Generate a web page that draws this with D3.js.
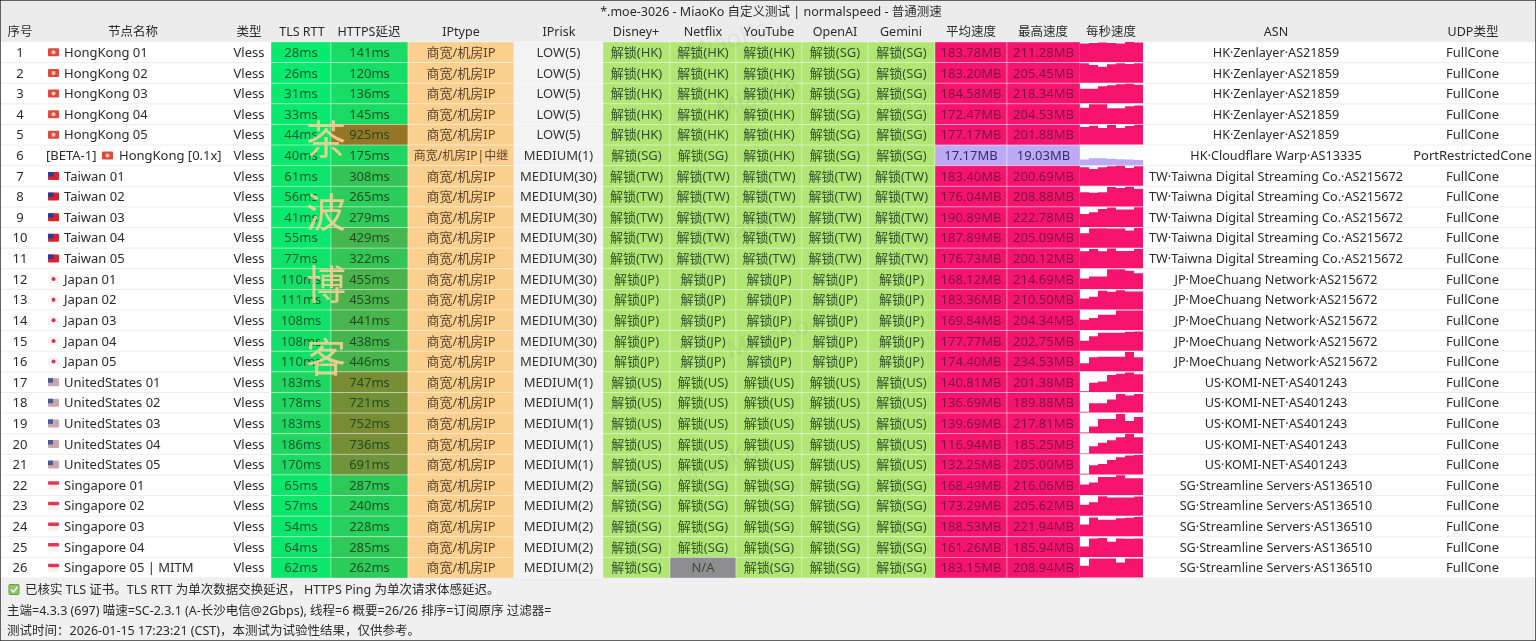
<!DOCTYPE html>
<html lang="zh">
<head>
<meta charset="UTF-8">
<title>MiaoKo normalspeed</title>
<script src="https://d3js.org/d3.v7.min.js"></script>
<style>
    html, body { margin: 0; padding: 0; background: #f0f0f0; overflow: hidden; }
    svg { display: block; filter: blur(0.4px); font-family: "Noto Sans", "Noto Sans CJK SC", sans-serif; }
    text { font-size: 13px; fill: #2b2b2b; }
</style>
</head>
<body>
<svg id="chart" width="1536" height="641"></svg>
<script>
const title = "*.moe-3026 - MiaoKo 自定义测试 | normalspeed - 普通测速";
const headers = ["序号", "节点名称", "类型", "TLS RTT", "HTTPS延迟", "IPtype", "IPrisk", "Disney+", "Netflix", "YouTube", "OpenAI", "Gemini", "平均速度", "最高速度", "每秒速度", "ASN", "UDP类型"];
const footerLines = [
    "已核实 TLS 证书。TLS RTT 为单次数据交换延迟， HTTPS Ping 为单次请求体感延迟。",
    "主端=4.3.3 (697) 喵速=SC-2.3.1 (A-长沙电信@2Gbps), 线程=6 概要=26/26 排序=订阅原序 过滤器=",
    "测试时间：2026-01-15 17:23:21 (CST)，本测试为试验性结果，仅供参考。"
];
const watermark = ["茶", "波", "博", "客"];

const names = ["HongKong 01", "HongKong 02", "HongKong 03", "HongKong 04", "HongKong 05", "HongKong [0.1x]",
    "Taiwan 01", "Taiwan 02", "Taiwan 03", "Taiwan 04", "Taiwan 05",
    "Japan 01", "Japan 02", "Japan 03", "Japan 04", "Japan 05",
    "UnitedStates 01", "UnitedStates 02", "UnitedStates 03", "UnitedStates 04", "UnitedStates 05",
    "Singapore 01", "Singapore 02", "Singapore 03", "Singapore 04", "Singapore 05 | MITM"];
const flags = ["HK", "HK", "HK", "HK", "HK", "HK", "TW", "TW", "TW", "TW", "TW", "JP", "JP", "JP", "JP", "JP",
    "US", "US", "US", "US", "US", "SG", "SG", "SG", "SG", "SG"];
const tlsRtt = [28, 26, 31, 33, 44, 40, 61, 56, 41, 55, 77, 110, 111, 108, 108, 110, 183, 178, 183, 186, 170, 65, 57, 54, 64, 62];
const httpsDelay = [141, 120, 136, 145, 925, 175, 308, 265, 279, 429, 322, 455, 453, 441, 438, 446, 747, 721, 752, 736, 691, 287, 240, 228, 285, 262];
const ipRisk = ["LOW(5)", "LOW(5)", "LOW(5)", "LOW(5)", "LOW(5)", "MEDIUM(1)",
    "MEDIUM(30)", "MEDIUM(30)", "MEDIUM(30)", "MEDIUM(30)", "MEDIUM(30)",
    "MEDIUM(30)", "MEDIUM(30)", "MEDIUM(30)", "MEDIUM(30)", "MEDIUM(30)",
    "MEDIUM(1)", "MEDIUM(1)", "MEDIUM(1)", "MEDIUM(1)", "MEDIUM(1)",
    "MEDIUM(2)", "MEDIUM(2)", "MEDIUM(2)", "MEDIUM(2)", "MEDIUM(2)"];
const disney = ["HK", "HK", "HK", "HK", "HK", "SG", "TW", "TW", "TW", "TW", "TW", "JP", "JP", "JP", "JP", "JP", "US", "US", "US", "US", "US", "SG", "SG", "SG", "SG", "SG"];
const netflix = ["HK", "HK", "HK", "HK", "HK", "SG", "TW", "TW", "TW", "TW", "TW", "JP", "JP", "JP", "JP", "JP", "US", "US", "US", "US", "US", "SG", "SG", "SG", "SG", null];
const youtube = ["HK", "HK", "HK", "HK", "HK", "HK", "TW", "TW", "TW", "TW", "TW", "JP", "JP", "JP", "JP", "JP", "US", "US", "US", "US", "US", "SG", "SG", "SG", "SG", "SG"];
const openai = ["SG", "SG", "SG", "SG", "SG", "SG", "TW", "TW", "TW", "TW", "TW", "JP", "JP", "JP", "JP", "JP", "US", "US", "US", "US", "US", "SG", "SG", "SG", "SG", "SG"];
const gemini = ["SG", "SG", "SG", "SG", "SG", "SG", "TW", "TW", "TW", "TW", "TW", "JP", "JP", "JP", "JP", "JP", "US", "US", "US", "US", "US", "SG", "SG", "SG", "SG", "SG"];
const avgSpeed = [183.78, 183.20, 184.58, 172.47, 177.17, 17.17, 183.40, 176.04, 190.89, 187.89, 176.73, 168.12, 183.36, 169.84, 177.77, 174.40, 140.81, 136.69, 139.69, 116.94, 132.25, 168.49, 173.29, 188.53, 161.26, 183.15];
const maxSpeed = [211.28, 205.45, 218.34, 204.53, 201.88, 19.03, 200.69, 208.88, 222.78, 205.09, 200.12, 214.69, 210.50, 204.34, 202.75, 234.53, 201.38, 189.88, 217.81, 185.25, 205.00, 216.06, 205.62, 221.94, 185.94, 208.94];
// per second samples, in percent of the cell height
const perSecond = [
    [93, 95, 97, 95, 92, 100, 97], [97, 88, 80, 92, 97, 93, 97], [72, 72, 85, 90, 95, 97, 92],
    [80, 98, 98, 78, 78, 88, 92], [88, 94, 82, 97, 82, 92, 98], [28, 35, 34, 32, 30, 28, 26],
    [92, 84, 92, 97, 100, 88, 97], [70, 68, 70, 96, 92, 98, 88], [65, 73, 90, 97, 87, 87, 98],
    [72, 97, 97, 95, 95, 85, 98], [85, 96, 84, 98, 86, 86, 96], [52, 62, 62, 97, 97, 90, 78],
    [55, 64, 93, 88, 96, 89, 89], [52, 60, 76, 76, 97, 97, 97], [50, 72, 90, 90, 90, 94, 96],
    [40, 70, 72, 72, 72, 96, 70], [4, 46, 52, 84, 90, 97, 88], [4, 46, 46, 65, 92, 85, 92],
    [3, 33, 70, 70, 96, 60, 80], [3, 38, 55, 68, 82, 98, 82], [3, 45, 52, 72, 85, 94, 96],
    [52, 62, 90, 90, 98, 84, 84], [54, 67, 97, 90, 90, 90, 95], [58, 93, 82, 82, 90, 92, 96],
    [52, 92, 94, 75, 92, 90, 92], [58, 94, 94, 94, 74, 94, 94]
];
const asn = ["HK·Zenlayer·AS21859", "HK·Zenlayer·AS21859", "HK·Zenlayer·AS21859", "HK·Zenlayer·AS21859", "HK·Zenlayer·AS21859", "HK·Cloudflare Warp·AS13335",
    "TW·Taiwna Digital Streaming Co.·AS215672", "TW·Taiwna Digital Streaming Co.·AS215672", "TW·Taiwna Digital Streaming Co.·AS215672", "TW·Taiwna Digital Streaming Co.·AS215672", "TW·Taiwna Digital Streaming Co.·AS215672",
    "JP·MoeChuang Network·AS215672", "JP·MoeChuang Network·AS215672", "JP·MoeChuang Network·AS215672", "JP·MoeChuang Network·AS215672", "JP·MoeChuang Network·AS215672",
    "US·KOMI-NET·AS401243", "US·KOMI-NET·AS401243", "US·KOMI-NET·AS401243", "US·KOMI-NET·AS401243", "US·KOMI-NET·AS401243",
    "SG·Streamline Servers·AS136510", "SG·Streamline Servers·AS136510", "SG·Streamline Servers·AS136510", "SG·Streamline Servers·AS136510", "SG·Streamline Servers·AS136510"];
const udp = names.map((d, i) => i === 5 ? "PortRestrictedCone" : "FullCone");

// column edges, one more than the headers
const edges = [0, 41, 228, 271, 331, 408, 514, 603, 670, 736, 802, 868, 935, 1007, 1080, 1143, 1409, 1536];
const headerCenters = [20, 133, 249, 302, 369, 461, 559, 636, 703, 769, 835, 901, 971, 1043, 1111, 1276, 1473];

const svg = d3.select("#chart");
const y = d3.scaleBand().domain(d3.range(names.length)).range([42, 578]);
const latency = d3.scaleLinear().domain([0, 1000]).range(["#02ee70", "#a06c20"]);
const speedColor = d3.scaleThreshold().domain([50]).range(["#bdaaf6", "#f7146f"]);
const speedText = d3.scaleThreshold().domain([50]).range(["#3a2a6a", "#7a1240"]);
const textY = y.bandwidth() / 2 + 4.6;

svg.append("rect").attr("width", 1536).attr("height", 641).attr("fill", "#f0f0f0");
svg.append("rect").attr("width", 1536).attr("height", 42).attr("fill", "#ececec");
svg.append("rect").attr("y", 42).attr("width", 1536).attr("height", 536).attr("fill", "#fff");

svg.append("text").attr("x", 771).attr("y", 15.5).attr("text-anchor", "middle").style("font-size", "12.5px").text(title);
svg.selectAll(".head").data(headers).enter().append("text")
    .attr("class", "head")
    .attr("x", (d, i) => headerCenters[i])
    .attr("y", 36)
    .attr("text-anchor", "middle")
    .style("font-size", "12.5px")
    .text(d => d);

const rows = svg.selectAll(".row").data(names).enter().append("g")
    .attr("class", "row")
    .attr("transform", (d, i) => `translate(0,${y(i)})`);

rows.append("line").attr("x2", 1536).attr("y1", y.bandwidth()).attr("y2", y.bandwidth()).attr("stroke", "#ededed");

function cell(col, fill) {
    rows.append("rect")
        .attr("x", edges[col])
        .attr("width", edges[col + 1] - edges[col])
        .attr("height", y.bandwidth())
        .attr("fill", fill)
        .attr("stroke", "rgba(255,255,255,0.42)")
        .attr("stroke-width", 0.8);
}
function centered(col, text, color) {
    return rows.append("text")
        .attr("x", (edges[col] + edges[col + 1]) / 2)
        .attr("y", textY)
        .attr("text-anchor", "middle")
        .style("fill", color || null)
        .text(text);
}

cell(3, (d, i) => latency(tlsRtt[i]));
cell(4, (d, i) => latency(httpsDelay[i]));
cell(5, "#fbd08f");
cell(6, "#f3f3f3");
[disney, netflix, youtube, openai, gemini].forEach((list, k) => {
    cell(7 + k, (d, i) => list[i] ? "#b1e675" : "#8e8e92");
    centered(7 + k, (d, i) => list[i] ? `解锁(${list[i]})` : "N/A", "#33502e");
});
cell(12, (d, i) => speedColor(avgSpeed[i]));
cell(13, (d, i) => speedColor(maxSpeed[i]));

rows.append("text").attr("x", 20).attr("y", textY).attr("text-anchor", "middle").text((d, i) => i + 1);
rows.append("text").attr("x", 249).attr("y", textY).attr("text-anchor", "middle").text("Vless");
rows.filter((d, i) => i === 5).append("text").attr("x", 46).attr("y", textY).text("[BETA-1]");
rows.append("text").attr("x", (d, i) => i === 5 ? 119 : 64).attr("y", textY).text(d => d);

// flags
const flagGroup = rows.append("g")
    .attr("transform", (d, i) => `translate(${i === 5 ? 102 : 48},${y.bandwidth() / 2 - 4})`);
flagGroup.append("rect").attr("width", 11).attr("height", 8).attr("rx", 1)
    .attr("fill", (d, i) => ({ HK: "#de4a3c", TW: "#d8222e", JP: "#f7f3f3", US: "#c9a6ac", SG: "#f4f0f0" })[flags[i]]);
flagGroup.filter((d, i) => flags[i] === "HK").append("circle")
    .attr("cx", 5.5).attr("cy", 4).attr("r", 2).attr("fill", "#f2c8c0");
flagGroup.filter((d, i) => flags[i] === "TW").append("rect")
    .attr("width", 5.5).attr("height", 4.5).attr("fill", "#2d3a9a");
flagGroup.filter((d, i) => flags[i] === "JP").append("circle")
    .attr("cx", 5.5).attr("cy", 4).attr("r", 2).attr("fill", "#d8334a");
flagGroup.filter((d, i) => flags[i] === "US").append("rect")
    .attr("width", 5).attr("height", 4.5).attr("fill", "#4a5a92");
flagGroup.filter((d, i) => flags[i] === "SG").append("rect")
    .attr("width", 11).attr("height", 3.5).attr("rx", 1).attr("fill", "#e03a52");

centered(3, (d, i) => tlsRtt[i] + "ms", "#14582f");
centered(4, (d, i) => httpsDelay[i] + "ms", "#1e4d22");
centered(5, (d, i) => i === 5 ? "商宽/机房IP|中继" : "商宽/机房IP", "#5a4630")
    .style("font-size", (d, i) => i === 5 ? "12px" : null);
centered(6, (d, i) => ipRisk[i], "#333");
centered(12, (d, i) => avgSpeed[i].toFixed(2) + "MB", (d, i) => speedText(avgSpeed[i]));
centered(13, (d, i) => maxSpeed[i].toFixed(2) + "MB", (d, i) => speedText(maxSpeed[i]));
centered(15, (d, i) => asn[i]).style("font-size", "12.65px");
centered(16, (d, i) => udp[i]);

// per second step areas
const stepX = d3.scaleLinear().domain([0, 7]).range([edges[14], edges[15]]);
const stepY = d3.scaleLinear().domain([0, 100]).range([y.bandwidth() - 0.5, 0]);
const area = d3.area()
    .x((d, i) => stepX(i))
    .y0(stepY(0))
    .y1(d => stepY(d))
    .curve(d3.curveStepAfter);
rows.append("path")
    .attr("d", (d, i) => area(perSecond[i].concat(perSecond[i][6])))
    .attr("fill", (d, i) => speedColor(avgSpeed[i]));

// faint MiaoKo stamp behind the unlock columns
svg.selectAll(".stamp").data(d3.range(5)).enter().append("text")
    .attr("class", "stamp")
    .attr("transform", d => `translate(${[730, 760, 750, 770, 720][d]},${[48, 105, 235, 345, 470][d]}) rotate(-18)`)
    .attr("text-anchor", "middle")
    .style("font-size", "24px")
    .style("fill", "rgba(70,70,70,0.07)")
    .text("MiaoKo");

svg.selectAll(".mark").data(watermark).enter().append("text")
    .attr("class", "mark")
    .attr("x", 326)
    .attr("y", (d, i) => 154 + i * 72.7)
    .attr("text-anchor", "middle")
    .style("font-family", "'Noto Sans CJK SC'")
    .style("font-weight", 400)
    .style("font-size", "40px")
    .style("fill", "rgba(250,208,150,0.88)")
    .text(d => d);

// footer
svg.selectAll(".foot").data(footerLines).enter().append("text")
    .attr("class", "foot")
    .attr("x", (d, i) => i === 0 ? 25 : 7)
    .attr("y", (d, i) => [594, 615, 635][i])
    .style("font-size", "12.5px")
    .text(d => d);
svg.append("rect").attr("x", 9).attr("y", 584.5).attr("width", 10).attr("height", 10).attr("rx", 1)
    .attr("fill", "#8fc565").attr("stroke", "#6b9c48");
svg.append("path").attr("d", "M11 589.5l2.5 2.5 4-5").attr("fill", "none").attr("stroke", "#fff").attr("stroke-width", 1.3);

// window edge
svg.append("rect").attr("width", 1536).attr("height", 641).attr("fill", "none").attr("stroke", "#333").attr("stroke-width", 1.5);
</script>
</body>
</html>
